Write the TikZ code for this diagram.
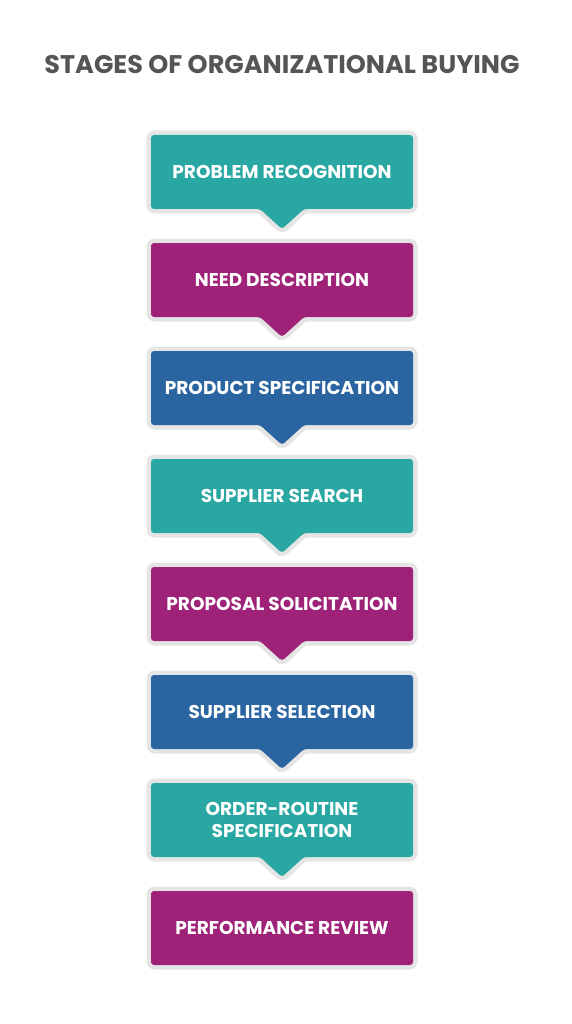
\documentclass[tikz,border=0pt]{standalone}
\usepackage{fontspec}
\setmainfont{Poppins}
\definecolor{tealbox}{RGB}{40,167,163}
\definecolor{plumbox}{RGB}{158,34,120}
\definecolor{bluebox}{RGB}{42,101,162}
\definecolor{edgegrey}{RGB}{229,229,229}
\definecolor{titlegrey}{RGB}{85,85,85}

\begin{document}
\begin{tikzpicture}[x=1pt, y=-1pt,
		tab/.style={rounded corners=3pt, preaction={draw=edgegrey, line width=9pt, line join=round}},
		stage/.style={font=\bfseries\fontsize{18.5}{22}\selectfont, text=white, align=center}]
		\useasboundingbox (0,0) rectangle (572,1024);
		\node[font=\bfseries\fontsize{25.5}{30}\selectfont, text=titlegrey] (title) at (282,65) {STAGES OF ORGANIZATIONAL BUYING};
		\fill[tab, tealbox, shift={(282,172)}] (-131,-37) -- (131,-37) -- (131,37) -- (22,37) -- (0,57) -- (-22,37) -- (-131,37) -- cycle;
		\fill[tab, plumbox, shift={(282,280)}] (-131,-37) -- (131,-37) -- (131,37) -- (22,37) -- (0,57) -- (-22,37) -- (-131,37) -- cycle;
		\fill[tab, bluebox, shift={(282,388)}] (-131,-37) -- (131,-37) -- (131,37) -- (22,37) -- (0,57) -- (-22,37) -- (-131,37) -- cycle;
		\fill[tab, tealbox, shift={(282,496)}] (-131,-37) -- (131,-37) -- (131,37) -- (22,37) -- (0,57) -- (-22,37) -- (-131,37) -- cycle;
		\fill[tab, plumbox, shift={(282,604)}] (-131,-37) -- (131,-37) -- (131,37) -- (22,37) -- (0,57) -- (-22,37) -- (-131,37) -- cycle;
		\fill[tab, bluebox, shift={(282,712)}] (-131,-37) -- (131,-37) -- (131,37) -- (22,37) -- (0,57) -- (-22,37) -- (-131,37) -- cycle;
		\fill[tab, tealbox, shift={(282,820)}] (-131,-37) -- (131,-37) -- (131,37) -- (22,37) -- (0,57) -- (-22,37) -- (-131,37) -- cycle;
		\fill[tab, plumbox, shift={(282,928)}] (-131,-37) rectangle (131,37);
		\node[stage] (problem) at (282,172) {PROBLEM RECOGNITION};
		\node[stage] (need) at (282,280) {NEED DESCRIPTION};
		\node[stage] (product) at (282,388) {PRODUCT SPECIFICATION};
		\node[stage] (search) at (282,496) {SUPPLIER SEARCH};
		\node[stage] (proposal) at (282,604) {PROPOSAL SOLICITATION};
		\node[stage] (selection) at (282,712) {SUPPLIER SELECTION};
		\node[stage] (routine) at (282,820) {ORDER-ROUTINE\\SPECIFICATION};
		\node[stage] (review) at (282,928) {PERFORMANCE REVIEW};
	\end{tikzpicture}
\end{document}
